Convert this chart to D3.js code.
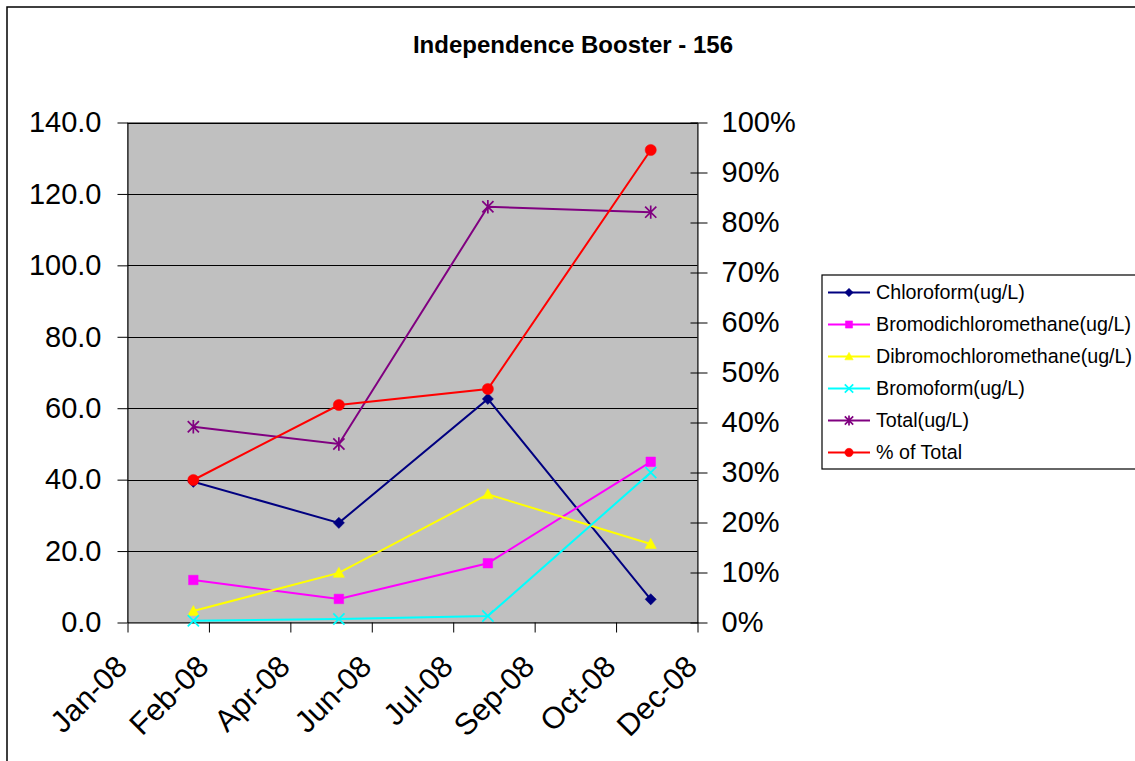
<!DOCTYPE html>
<html>
<head>
<meta charset="utf-8">
<script src="https://cdn.jsdelivr.net/npm/d3@7"></script>
<style>
  html, body { margin: 0; padding: 0; background: #fff; }
  svg { display: block; }
  text { font-family: "Liberation Sans", Arial, sans-serif; fill: #000; }
</style>
</head>
<body>
<svg id="chart" width="1135" height="761"></svg>
<script>
// ---------------- data ----------------
const title = "Independence Booster - 156";
const sampleDates = ["2008-02-19", "2008-05-13", "2008-08-07", "2008-11-09"];
const chloroform = [39.4, 27.9, 62.6, 6.5];
const bromodichloromethane = [11.9, 6.6, 16.6, 45.0];
const dibromochloromethane = [3.2, 13.9, 35.9, 22.0];
const bromoform = [0.5, 1.0, 1.8, 42.0];
const total = [54.8, 50.0, 116.4, 114.9];
const pctOfTotal = [0.285, 0.435, 0.467, 0.945];

const xTickDates = ["2008-01-12", "2008-02-28", "2008-04-15", "2008-06-01", "2008-07-18", "2008-09-03", "2008-10-20", "2008-12-06"];
const xTickLabels = ["Jan-08", "Feb-08", "Apr-08", "Jun-08", "Jul-08", "Sep-08", "Oct-08", "Dec-08"];
const leftTicks = [0, 20, 40, 60, 80, 100, 120, 140];
const rightTicks = [0, 0.1, 0.2, 0.3, 0.4, 0.5, 0.6, 0.7, 0.8, 0.9, 1.0];

const seriesNames = ["Chloroform(ug/L)", "Bromodichloromethane(ug/L)", "Dibromochloromethane(ug/L)", "Bromoform(ug/L)", "Total(ug/L)", "% of Total"];
const seriesColors = ["#000080", "#FF00FF", "#FFFF00", "#00FFFF", "#800080", "#FF0000"];
const seriesMarkers = ["diamond", "square", "triangle", "times", "star", "circle"];
const seriesValues = [chloroform, bromodichloromethane, dibromochloromethane, bromoform, total, pctOfTotal];
const seriesAxis = ["left", "left", "left", "left", "left", "right"];

// ---------------- layout ----------------
const L = 127.5, R = 697.5, T = 122.5, B = 622.5;
const parse = d3.utcParse("%Y-%m-%d");

const svg = d3.select("#chart");

// chart border
svg.append("rect").attr("x", 7).attr("y", 7).attr("width", 1150).attr("height", 780)
  .attr("fill", "#fff").attr("stroke", "#000").attr("stroke-width", 1.5);

const x = d3.scaleUtc().domain([parse(xTickDates[0]), parse(xTickDates[xTickDates.length - 1])]).range([L, R]);
const yL = d3.scaleLinear().domain([0, 140]).range([B, T]);
const yR = d3.scaleLinear().domain([0, 1]).range([B, T]);

// plot area
svg.append("rect").attr("x", L).attr("y", T).attr("width", R - L).attr("height", B - T)
  .attr("fill", "#C0C0C0").attr("stroke", "#808080").attr("stroke-width", 1);

// gridlines
svg.append("g").selectAll("line").data(leftTicks.filter(d => d > 0)).join("line")
  .attr("x1", L).attr("x2", R)
  .attr("y1", d => Math.round(yL(d)) + 0.5).attr("y2", d => Math.round(yL(d)) + 0.5)
  .attr("stroke", "#000").attr("stroke-width", 1);

// left axis
const gL = svg.append("g").attr("transform", `translate(${L},0)`)
  .call(d3.axisLeft(yL).tickValues(leftTicks).tickFormat(d3.format(".1f")).tickSizeInner(10).tickSizeOuter(0).tickPadding(16));
gL.selectAll("text").style("font-size", "29px");
gL.selectAll("line, path").attr("stroke", "#000");

// right axis
const gR = svg.append("g").attr("transform", `translate(${R},0)`)
  .call(d3.axisRight(yR).tickValues(rightTicks).tickFormat(d3.format(".0%")).tickSizeInner(10).tickSizeOuter(0).tickPadding(14));
gR.selectAll("text").style("font-size", "29px");
gR.selectAll(".tick line").attr("x1", -7);
gR.selectAll("line, path").attr("stroke", "#000");

// bottom axis
const gB = svg.append("g").attr("transform", `translate(0,${B})`)
  .call(d3.axisBottom(x).tickValues(xTickDates.map(parse)).tickFormat((d, i) => xTickLabels[i]).tickSizeInner(10).tickSizeOuter(0));
gB.selectAll("line, path").attr("stroke", "#000");
gB.selectAll("text")
  .style("font-size", "30.5px")
  .attr("text-anchor", "end")
  .attr("y", 0).attr("dy", 0)
  .attr("transform", "translate(1,46) rotate(-45)");

// ---------------- markers ----------------
function markerType(kind) {
  return {
    draw(ctx, s) {
      if (kind === "diamond") {
        ctx.moveTo(0, -s); ctx.lineTo(s, 0); ctx.lineTo(0, s); ctx.lineTo(-s, 0); ctx.closePath();
      } else if (kind === "square") {
        ctx.rect(-s * 0.85, -s * 0.85, s * 1.7, s * 1.7);
      } else if (kind === "triangle") {
        ctx.moveTo(0, -s); ctx.lineTo(s, s * 0.8); ctx.lineTo(-s, s * 0.8); ctx.closePath();
      } else if (kind === "times") {
        ctx.moveTo(-s, -s); ctx.lineTo(s, s); ctx.moveTo(-s, s); ctx.lineTo(s, -s);
      } else if (kind === "star") {
        ctx.moveTo(-s, -s); ctx.lineTo(s, s); ctx.moveTo(-s, s); ctx.lineTo(s, -s);
        ctx.moveTo(0, -s * 1.2); ctx.lineTo(0, s * 1.2);
      } else {
        ctx.moveTo(s, 0); ctx.arc(0, 0, s, 0, 2 * Math.PI);
      }
    }
  };
}
const strokeOnly = k => k === "times" || k === "star";

function drawMarker(g, kind, color, s) {
  g.append("path")
    .attr("d", d3.symbol().type(markerType(kind)).size(s)())
    .attr("fill", strokeOnly(kind) ? "none" : color)
    .attr("stroke", color)
    .attr("stroke-width", strokeOnly(kind) ? 1.7 : 0.5);
}

// ---------------- series ----------------
const dates = sampleDates.map(parse);
seriesValues.forEach((vals, si) => {
  const yScale = seriesAxis[si] === "right" ? yR : yL;
  const pts = vals.map((v, i) => [x(dates[i]), yScale(v)]);
  svg.append("path")
    .attr("d", d3.line()(pts))
    .attr("fill", "none")
    .attr("stroke", seriesColors[si])
    .attr("stroke-width", 2);
  pts.forEach(p => {
    const g = svg.append("g").attr("transform", `translate(${p[0]},${p[1]})`);
    drawMarker(g, seriesMarkers[si], seriesColors[si], 5.6);
  });
});

// ---------------- title ----------------
svg.append("text").attr("x", 573).attr("y", 53).attr("text-anchor", "middle")
  .style("font-size", "24px").style("font-weight", "bold").text(title);

// ---------------- legend ----------------
const lg = svg.append("g");
lg.append("rect").attr("x", 822).attr("y", 275).attr("width", 330).attr("height", 194)
  .attr("fill", "#fff").attr("stroke", "#000").attr("stroke-width", 1.2);
seriesNames.forEach((name, i) => {
  const cy = 292.5 + i * 32;
  lg.append("line").attr("x1", 828).attr("x2", 870).attr("y1", cy).attr("y2", cy)
    .attr("stroke", seriesColors[i]).attr("stroke-width", 2);
  const g = lg.append("g").attr("transform", `translate(849,${cy})`);
  drawMarker(g, seriesMarkers[i], seriesColors[i], 4.2);
  lg.append("text").attr("x", 876).attr("y", cy).attr("dy", "0.35em")
    .style("font-size", "19.7px").text(name);
});
</script>
</body>
</html>
